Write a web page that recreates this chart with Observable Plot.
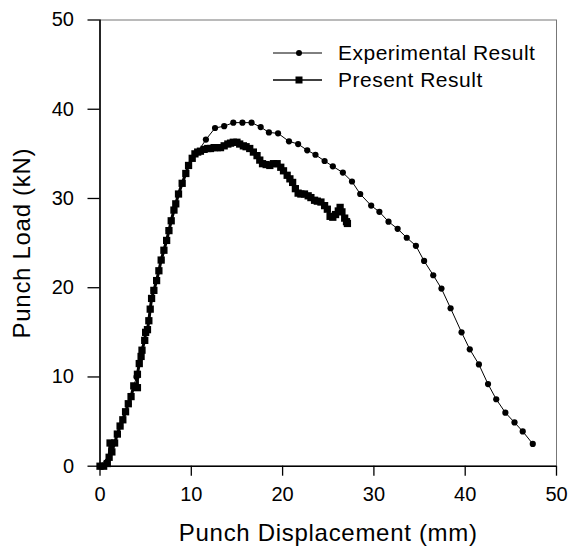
<!DOCTYPE html>
<html>
<head>
<meta charset="utf-8">
<script src="https://cdn.jsdelivr.net/npm/d3@7"></script>
<script src="https://cdn.jsdelivr.net/npm/@observablehq/plot@0.6"></script>
<style>
  html, body { margin: 0; padding: 0; background: #fff; }
  #wrap { position: relative; width: 580px; height: 553px; font-family: "Liberation Sans", Arial, sans-serif; }
  #legend { position: absolute; left: 270px; top: 40px; font-size: 21px; letter-spacing: 0.5px; color: #000; }
  .row { display: flex; align-items: center; height: 26.5px; }
  .row svg { width: 60px; height: 20px; margin-right: 8px; }
</style>
</head>
<body>
<div id="wrap"></div>
<script>
// Experimental Result: displacement (mm), load (kN)
const expX = [0, 1.3, 2.2, 3.1, 4.0, 4.9, 5.9, 6.7, 7.55, 8.6, 9.7, 10.7,
  11.6, 12.6, 13.6, 14.6, 15.6, 16.6, 17.6, 18.5, 19.5, 20.7, 21.7, 22.7, 23.6, 24.6,
  25.5, 26.6, 27.6, 28.5, 29.7, 30.6, 31.6, 32.6, 33.6, 34.6, 35.5, 36.5, 37.4, 38.4,
  39.6, 40.5, 41.5, 42.5, 43.4, 44.4, 45.4, 46.3, 47.4];
const expY = [0, 1.6, 4.5, 7.0, 10.0, 14.1, 19.7, 23.1, 26.4, 30.5, 33.7, 35.2,
  36.6, 37.9, 38.1, 38.5, 38.5, 38.5, 38.0, 37.4, 37.3, 36.4, 36.1, 35.4, 34.9, 34.2,
  33.6, 32.9, 31.9, 30.5, 29.2, 28.5, 27.4, 26.6, 25.6, 24.7, 23.0, 21.4, 19.9, 17.7,
  15.0, 13.1, 11.4, 9.2, 7.5, 6.0, 4.9, 3.9, 2.5];

// Present Result: displacement (mm), load (kN)
const preX = [0, 0.4, 0.8, 1.0, 1.1, 1.3, 1.6, 1.9, 2.2, 2.5, 2.8, 3.1, 3.4, 3.7, 4.1, 4.1,
  4.3, 4.5, 4.6, 4.9, 5.0, 5.2, 5.35, 5.5, 5.65, 5.9, 6.2, 6.45, 6.7, 7.0, 7.3, 7.55, 7.8,
  8.1, 8.3, 8.6, 9.0, 9.4, 9.7, 10.1, 10.4, 10.7, 11.0, 11.4, 11.8, 12.1, 12.5, 12.85, 13.2,
  13.6, 14.0, 14.3, 14.6, 15.0, 15.3, 15.7, 16.0, 16.4, 16.8, 17.2, 17.5, 17.8, 18.2, 18.6,
  19.0, 19.4, 19.8, 20.1, 20.5, 20.8, 21.1, 21.4, 21.7, 22.0, 22.4, 22.8, 23.1, 23.5, 23.8,
  24.2, 24.6, 24.9, 25.2, 25.5, 25.8, 26.1, 26.3, 26.5, 26.8, 27.0, 27.1];
const preY = [0, 0, 0.3, 1.0, 2.6, 1.6, 2.6, 3.6, 4.5, 5.2, 6.1, 7.0, 7.8, 9.0, 8.8, 10.3,
  11.5, 12.3, 13.0, 14.1, 15.0, 15.3, 16.3, 17.6, 18.8, 19.7, 20.8, 21.9, 23.1, 24.2, 25.3, 26.4, 27.5,
  28.7, 29.4, 30.5, 31.7, 32.8, 33.7, 34.5, 35.0, 35.2, 35.3, 35.5, 35.6, 35.6, 35.7, 35.7, 35.7,
  35.9, 36.1, 36.2, 36.3, 36.3, 36.1, 35.9, 35.8, 35.6, 35.2, 34.8, 34.3, 33.9, 33.8, 33.7,
  33.9, 33.9, 33.5, 33.1, 32.6, 32.2, 31.8, 31.1, 30.6, 30.5, 30.5, 30.3, 30.1, 29.8, 29.7,
  29.6, 29.2, 28.8, 28.0, 27.9, 28.2, 28.6, 29.0, 28.5, 27.8, 27.4, 27.2];

const xTicks = [0, 10, 20, 30, 40, 50];
const yTicks = [0, 10, 20, 30, 40, 50];
const xTitle = "Punch Displacement (mm)";
const yTitle = "Punch Load (kN)";
const seriesNames = ["Experimental Result", "Present Result"];

const experimental = expX.map((x, i) => ({x, y: expY[i]}));
const present = preX.map((x, i) => ({x, y: preY[i]}));

const font = "'Liberation Sans', Arial, sans-serif";

const chart = Plot.plot({
  width: 580,
  height: 553,
  marginLeft: 99.5,
  marginRight: 24,
  marginTop: 19.5,
  marginBottom: 87.3,
  style: {fontFamily: font, fontSize: "20px", color: "#000", background: "#fff"},
  x: {domain: [0, 50]},
  y: {domain: [0, 50]},
  marks: [
    Plot.frame({stroke: "#777", strokeWidth: 1}),
    Plot.axisX({ticks: xTicks, tickSize: 10, tickPadding: 11, tickFormat: d => String(d), label: null, fontSize: 20, stroke: "#000", strokeWidth: 1.3}),
    Plot.axisY({ticks: yTicks, tickSize: 12, tickPadding: 14, tickFormat: d => String(d), label: null, fontSize: 20, stroke: "#000", strokeWidth: 1.3}),
    Plot.ruleX([0], {stroke: "#000", strokeWidth: 1.6}),
    Plot.ruleY([0], {stroke: "#000", strokeWidth: 1.6}),
    Plot.line(experimental, {x: "x", y: "y", stroke: "#000", strokeWidth: 1}),
    Plot.dot(experimental, {x: "x", y: "y", r: 3.1, fill: "#000", stroke: "none"}),
    Plot.line(present, {x: "x", y: "y", stroke: "#000", strokeWidth: 3}),
    Plot.dot(present, {x: "x", y: "y", symbol: "square", r: 4.1, fill: "#000", stroke: "none"}),
    Plot.text([xTitle], {text: d => d, frameAnchor: "bottom", dy: 75, fontSize: 24, fill: "#000", style: "letter-spacing:0.7px"}),
    Plot.text([yTitle], {text: d => d, frameAnchor: "left", textAnchor: "middle", rotate: -90, dx: -77.5, fontSize: 24, fill: "#000"})
  ]
});

// letter spacing for axis titles to match the wider reference lettering
d3.select(chart).selectAll("text").filter(function() { return this.textContent === xTitle || this.textContent === yTitle; })
  .style("letter-spacing", "0.7px");

const wrap = document.getElementById("wrap");
wrap.appendChild(chart);

// Legend overlay
const legend = document.createElement("div");
legend.id = "legend";
const symbols = ["circle", "square"];
seriesNames.forEach((name, i) => {
  const row = document.createElement("div");
  row.className = "row";
  const svg = d3.create("svg").attr("viewBox", "0 0 60 20");
  svg.append("line").attr("x1", 3).attr("x2", 52).attr("y1", 10).attr("y2", 10)
    .attr("stroke", "#000").attr("stroke-width", i === 0 ? 1 : 1.6);
  if (symbols[i] === "circle") {
    svg.append("circle").attr("cx", 29).attr("cy", 10).attr("r", 3).attr("fill", "#000");
  } else {
    svg.append("rect").attr("x", 25.5).attr("y", 6.5).attr("width", 7).attr("height", 7).attr("fill", "#000");
  }
  row.appendChild(svg.node());
  const span = document.createElement("span");
  span.textContent = name;
  row.appendChild(span);
  legend.appendChild(row);
});
wrap.appendChild(legend);
</script>
</body>
</html>
